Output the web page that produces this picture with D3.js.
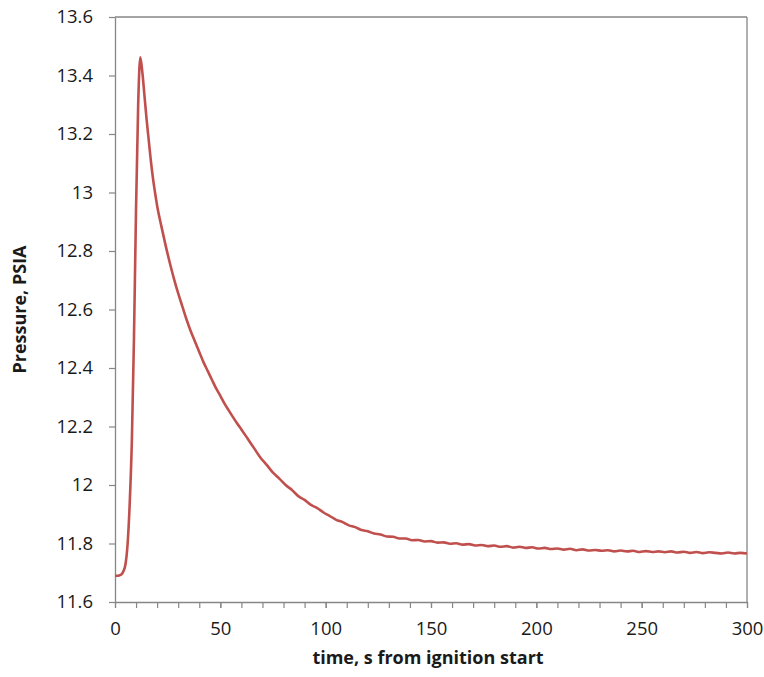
<!DOCTYPE html>
<html>
<head>
<meta charset="utf-8">
<script src="https://cdn.jsdelivr.net/npm/d3@7"></script>
<style>
  html, body { margin: 0; padding: 0; background: #fff; }
  svg { display: block; }
  text { font-family: "Open Sans", "Liberation Sans", sans-serif; fill: #1a1a1a; }
</style>
</head>
<body>
<svg id="chart" width="764" height="677"></svg>
<script>
// ---- data ----
const timeS = [
  0,1,2,3,4,5,6,7,8,9,10,11,12,13,14,15,16,17,18,19,20,
  22,24,26,28,30,32,34,36,38,40,42,44,46,48,50,52,54,56,58,60,
  63,66,69,72,75,78,81,84,87,90,93,96,99,102,105,108,111,114,117,120,
  123,126,129,132,135,138,141,144,147,150,153,156,159,162,165,168,171,174,177,180,
  183,186,189,192,195,198,201,204,207,210,213,216,219,222,225,228,231,234,237,240,
  243,246,249,252,255,258,261,264,267,270,273,276,279,282,285,288,291,294,297,300
];
const pressurePsia = [
  11.690,11.690,11.691,11.694,11.705,11.730,11.800,11.940,12.150,12.500,12.950,13.300,13.462,13.410,13.330,13.250,13.180,13.110,13.050,13.000,12.955,
  12.885,12.820,12.760,12.705,12.655,12.610,12.565,12.525,12.490,12.455,12.420,12.390,12.360,12.330,12.305,12.278,12.255,12.232,12.210,12.190,
  12.158,12.126,12.094,12.069,12.042,12.022,12.000,11.983,11.962,11.949,11.932,11.921,11.906,11.894,11.881,11.873,11.862,11.856,11.846,11.842,
  11.834,11.831,11.824,11.823,11.817,11.817,11.811,11.812,11.807,11.808,11.803,11.804,11.799,11.801,11.796,11.798,11.793,11.795,11.791,11.793,
  11.789,11.791,11.786,11.789,11.785,11.787,11.783,11.785,11.781,11.783,11.779,11.782,11.777,11.780,11.776,11.778,11.775,11.777,11.773,11.776,
  11.773,11.775,11.771,11.774,11.771,11.773,11.770,11.773,11.769,11.772,11.768,11.771,11.767,11.770,11.768,11.766,11.769,11.766,11.768,11.766
];
const xMajorTicks = [0, 50, 100, 150, 200, 250, 300];
const xMinorTicks = d3.range(0, 301, 10);
const yTicks = [11.6, 11.8, 12.0, 12.2, 12.4, 12.6, 12.8, 13.0, 13.2, 13.4, 13.6];
const xTitle = "time, s from ignition start";
const yTitle = "Pressure, PSIA";

// ---- layout ----
const svg = d3.select("#chart");
const plot = { left: 115, top: 17, right: 747, bottom: 602 };
const axisColor = "#868686";

const x = d3.scaleLinear().domain([0, 300]).range([plot.left, plot.right]);
const y = d3.scaleLinear().domain([11.6, 13.6]).range([plot.bottom, plot.top]);

// frame (top and right borders)
svg.append("line").attr("x1", plot.left).attr("x2", plot.right)
  .attr("y1", plot.top).attr("y2", plot.top)
  .attr("stroke", axisColor).attr("stroke-width", 1.3);
svg.append("line").attr("x1", plot.right).attr("x2", plot.right)
  .attr("y1", plot.top).attr("y2", plot.bottom)
  .attr("stroke", axisColor).attr("stroke-width", 1.3);

// x axis minor ticks
svg.append("g")
  .attr("transform", `translate(0,${plot.bottom})`)
  .call(d3.axisBottom(x).tickValues(xMinorTicks).tickSize(6).tickFormat(""))
  .call(g => g.selectAll("line").attr("stroke", axisColor).attr("stroke-width", 1.2))
  .call(g => g.select(".domain").remove());

// x axis
const xAxis = svg.append("g")
  .attr("transform", `translate(0,${plot.bottom})`)
  .call(d3.axisBottom(x).tickValues(xMajorTicks).tickSize(6).tickSizeOuter(0).tickPadding(14).tickFormat(d3.format("d")));
xAxis.select(".domain").attr("stroke", axisColor).attr("stroke-width", 1.3);
xAxis.selectAll("line").attr("stroke", axisColor).attr("stroke-width", 1.2);
xAxis.selectAll("text").style("font-size", "18.5px").attr("fill", "#1a1a1a");

// y axis
const yAxis = svg.append("g")
  .attr("transform", `translate(${plot.left},0)`)
  .call(d3.axisLeft(y).tickValues(yTicks).tickSize(6).tickSizeOuter(0).tickPadding(16)
    .tickFormat(d => String(+d.toFixed(1))));
yAxis.select(".domain").attr("stroke", axisColor).attr("stroke-width", 1.3);
yAxis.selectAll("line").attr("stroke", axisColor).attr("stroke-width", 1.2);
yAxis.selectAll("text").style("font-size", "18.5px").attr("fill", "#1a1a1a");

// line
const line = d3.line()
  .x((d, i) => x(timeS[i]))
  .y(d => y(d))
  .curve(d3.curveMonotoneX);
svg.append("path")
  .datum(pressurePsia)
  .attr("d", line)
  .attr("fill", "none")
  .attr("stroke", "#c0504d")
  .attr("stroke-width", 2.6)
  .attr("stroke-linejoin", "round");

// titles
svg.append("text")
  .attr("x", 428)
  .attr("y", 664)
  .attr("text-anchor", "middle")
  .style("font-size", "18px").style("font-weight", "bold")
  .text(xTitle);
svg.append("text")
  .attr("transform", `translate(26,${(plot.top + plot.bottom) / 2}) rotate(-90)`)
  .attr("text-anchor", "middle")
  .style("font-size", "18px").style("font-weight", "bold")
  .text(yTitle);
</script>
</body>
</html>
